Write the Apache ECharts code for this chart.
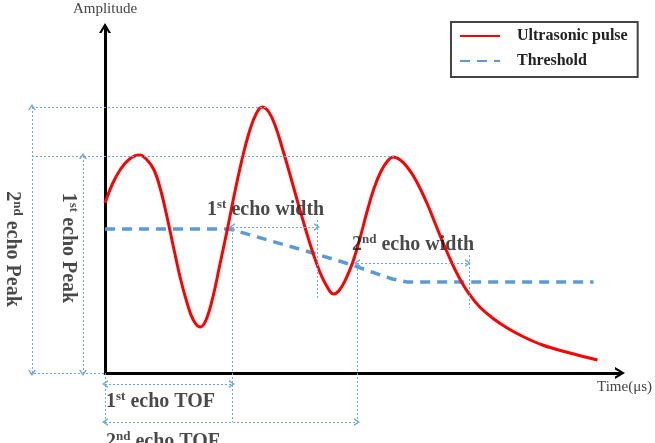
<!DOCTYPE html>
<html>
<head>
<meta charset="utf-8">
<script src="https://cdn.jsdelivr.net/npm/echarts@6/dist/echarts.min.js"></script>
<style>
html,body{margin:0;padding:0;background:#fff;}
#main{width:655px;height:443px;}
</style>
</head>
<body>
<div id="main"></div>
<script>
// 超声脉冲 (time, amplitude) 读图所得
const pulseTime = [0, 0.8, 1.6, 2.5, 3.5, 4.2, 5.0, 5.7, 6.3, 7.0, 7.7, 8.4, 9.0, 9.7,
  10.3, 11.0, 11.7, 12.5, 13.3, 14.1, 14.8, 15.4, 16.0,
  16.7, 17.4, 18.1, 18.9, 19.7, 20.5, 21.2, 21.9, 22.6, 23.3,
  23.9, 24.6, 25.3, 26.0, 26.7, 27.4, 28.1, 28.8, 29.4,
  30.1, 30.8, 31.5, 32.2, 32.9, 33.6, 34.3, 35.0, 35.7, 36.4, 37.2, 38.2, 39.5, 41.0, 42.7, 44.6, 47.0, 50.2];
const pulseAmp  = [17.0, 19.0, 20.4, 21.4, 21.8, 21.4, 20.3, 18.2, 15.7, 12.5, 9.4, 6.9, 5.3, 4.6,
  5.3, 7.6, 10.8, 14.5, 18.4, 21.9, 24.4, 25.9, 26.6,
  26.1, 24.6, 22.4, 19.7, 16.9, 14.2, 12.0, 10.1, 8.7, 7.9,
  8.3, 9.5, 11.2, 13.5, 16.1, 18.4, 20.1, 21.2, 21.6,
  21.3, 20.6, 19.6, 18.3, 16.8, 15.1, 13.4, 11.8, 10.3, 9.0, 7.8, 6.6, 5.5, 4.5, 3.6, 2.8, 2.1, 1.3];
// 阈值线
const thresholdTime = [0, 12.7, 21.2, 25.2, 27.2, 29.3, 30.8, 49.8];
const thresholdAmp  = [14.4, 14.4, 12.0, 10.8, 10.1, 9.4, 9.1, 9.1];
// 辅助虚线 [t1, a1, t2, a2]
const guideLines = [
  [-7.3, 26.6, 16.1, 26.6],
  [-7.3, 21.7, 29.5, 21.7],
  [-7.5, 0, 0, 0],
  [12.7, 14.4, 12.7, -4.9],
  [25.2, 10.8, 25.2, -4.9],
  [21.2, 15.3, 21.2, 7.3],
  [36.4, 11.8, 36.4, 6.5],
  [0, 0, 0, -4.9]
];
// 双箭头标注线
const arrowLines = [
  [-7.3, 26.6, -7.3, 0],
  [-2.2, 21.7, -2.2, 0],
  [12.7, 14.6, 21.2, 14.6],
  [25.2, 11.0, 36.3, 11.0],
  [0, -1.1, 12.7, -1.1],
  [0, -4.9, 25.2, -4.9]
];
// 标注文字 [主体, 上标, 其余]
const labelTexts = [
  ['1', 'st', ' echo width'],
  ['2', 'nd', ' echo width'],
  ['1', 'st', ' echo TOF'],
  ['2', 'nd', ' echo TOF'],
  ['1', 'st', ' echo Peak'],
  ['2', 'nd', ' echo Peak']
];
const labelAnchors = [[10.2, 16.3], [24.7, 12.8], [0.1, -2.9], [0.1, -6.9], [-3.7, 12.5], [-9.3, 12.4]];
const labelRotated = [false, false, false, false, true, true];
const seriesNames = ['Ultrasonic pulse', 'Threshold'];
const axisNames = ['Time(μs)', 'Amplitude'];

const chevron = 'path://M0,10 L6,0 L12,10 L9.5,10 L6,4 L2.5,10 Z';
const guideColor = '#6fa8dc';
const serif = 'Liberation Serif';

let myChart = echarts.init(document.getElementById('main'));
let guideStyle = {color: guideColor, width: 1, type: [2, 2]};

let option = {
  animation: false,
  legend: {
    data: seriesNames,
    orient: 'vertical',
    left: 451, top: 22,
    itemWidth: 40, itemHeight: 12, itemGap: 9,
    padding: [6, 10, 8, 8],
    borderColor: '#444', borderWidth: 2,
    selectedMode: false,
    itemStyle: {opacity: 0},
    textStyle: {fontFamily: serif, fontWeight: 'bold', fontSize: 16, color: '#222', padding: [0, 0, 0, 12]}
  },
  grid: [
    {left: 105, right: 25, top: 28, bottom: 70},
    {left: 0, right: 0, top: 0, bottom: 0}
  ],
  xAxis: [
    {
      gridIndex: 0, type: 'value', min: 0, max: 52.5,
      name: axisNames[0], nameLocation: 'end', nameGap: -23,
      nameTextStyle: {fontFamily: serif, fontSize: 15, color: '#444', align: 'left', verticalAlign: 'top', padding: [7, 0, 0, 0]},
      axisLine: {show: true, onZero: false, symbol: ['none', chevron], symbolSize: [12, 10], lineStyle: {color: '#000', width: 3}},
      axisTick: {show: false}, axisLabel: {show: false}, splitLine: {show: false}
    },
    {gridIndex: 1, type: 'value', min: -10.5, max: 55, show: false}
  ],
  yAxis: [
    {
      gridIndex: 0, type: 'value', min: 0, max: 34.5,
      name: axisNames[1], nameLocation: 'end', nameGap: 11,
      nameTextStyle: {fontFamily: serif, fontSize: 15, color: '#444'},
      axisLine: {show: true, onZero: false, symbol: ['none', chevron], symbolSize: [12, 10], lineStyle: {color: '#000', width: 3}},
      axisTick: {show: false}, axisLabel: {show: false}, splitLine: {show: false}
    },
    {gridIndex: 1, type: 'value', min: -7, max: 37.3, show: false}
  ],
  series: [
    {
      name: seriesNames[0], type: 'line', xAxisIndex: 0, yAxisIndex: 0,
      data: pulseTime.map((t, i) => [t, pulseAmp[i]]),
      smooth: 0.4, symbol: 'none', clip: false, z: 4,
      lineStyle: {color: '#ff0000', width: 3},
      itemStyle: {color: '#ff0000'}
    },
    {
      name: seriesNames[1], type: 'line', xAxisIndex: 0, yAxisIndex: 0,
      data: thresholdTime.map((t, i) => [t, thresholdAmp[i]]),
      symbol: 'none', clip: false, z: 3,
      lineStyle: {color: '#5b9bd5', width: 3.5, type: [10, 7]},
      itemStyle: {color: '#5b9bd5'}
    },
    {
      type: 'line', xAxisIndex: 1, yAxisIndex: 1, data: [], z: 2,
      markLine: {
        silent: true, symbol: ['none', 'none'], label: {show: false},
        lineStyle: guideStyle,
        emphasis: {disabled: true},
        data: guideLines.map(g => [{coord: [g[0], g[1]]}, {coord: [g[2], g[3]]}])
      }
    },
    {
      type: 'line', xAxisIndex: 1, yAxisIndex: 1, data: [], z: 2,
      markLine: {
        silent: true, symbol: [chevron, chevron], symbolSize: [8, 6], label: {show: false},
        lineStyle: guideStyle,
        emphasis: {disabled: true},
        data: arrowLines.map(g => [{coord: [g[0], g[1]]}, {coord: [g[2], g[3]]}])
      }
    },
    {
      type: 'scatter', xAxisIndex: 1, yAxisIndex: 1, symbolSize: 0, silent: true, z: 5,
      data: labelAnchors.map((p, i) => ({
        value: p,
        label: labelRotated[i]
          ? {position: 'inside', rotate: -90, align: 'center', verticalAlign: 'middle'}
          : {position: 'right', distance: 0, align: 'left', verticalAlign: 'middle'}
      })),
      label: {
        show: true,
        formatter: function (params) {
          let t = labelTexts[params.dataIndex];
          return '{n|' + t[0] + '}{s|' + t[1] + '}{n|' + t[2] + '}';
        },
        rich: {
          n: {fontFamily: serif, fontWeight: 'bold', fontSize: 20, color: '#1c1c1c', lineHeight: 23},
          s: {fontFamily: serif, fontWeight: 'bold', fontSize: 13, color: '#1c1c1c', lineHeight: 13, verticalAlign: 'top'}
        }
      }
    }
  ]
};
myChart.setOption(option);
window.onresize = myChart.resize;
</script>
</body>
</html>
